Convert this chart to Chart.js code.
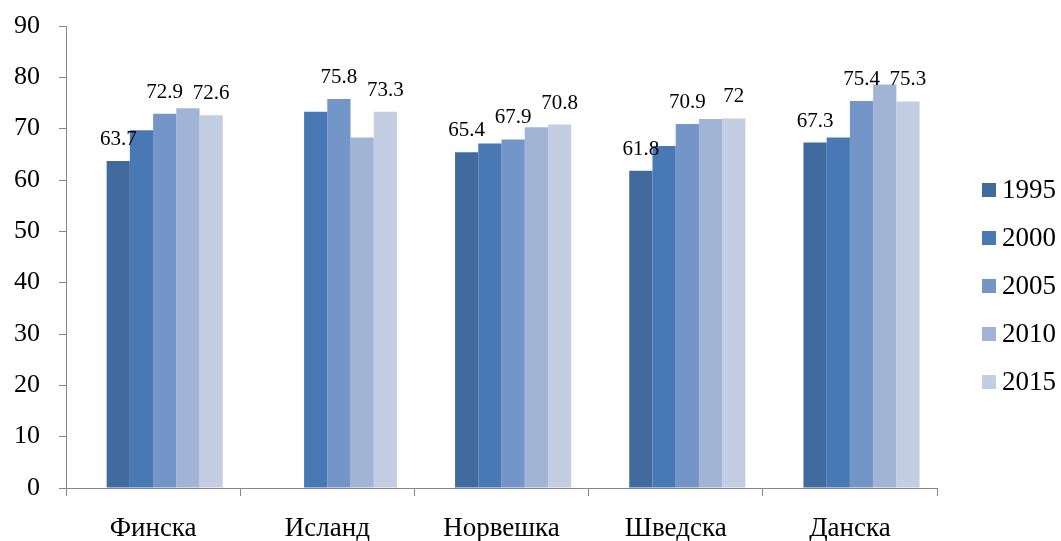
<!DOCTYPE html>
<html><head><meta charset="utf-8">
<script src="https://cdn.jsdelivr.net/npm/chart.js@4"></script>
<style>html,body{margin:0;padding:0;background:#fff}#wrap{width:1061px;height:541px;position:relative}</style>
</head><body><div id="wrap"><canvas id="c"></canvas></div>
<script>
const categories = ['Финска', 'Исланд', 'Норвешка', 'Шведска', 'Данска'];
const seriesNames = ['1995', '2000', '2005', '2010', '2015'];
const v1995 = [63.7, null, 65.4, 61.8, 67.3];
const v2000 = [69.7, 73.3, 67.1, 66.6, 68.3];
const v2005 = [72.9, 75.8, 67.9, 70.9, 75.4];
const v2010 = [74.0, 68.3, 70.3, 71.9, 78.6];
const v2015 = [72.6, 73.3, 70.8, 72.0, 75.3];
const emptySlot = [null, null, null, null, null];
const yTicks = [0, 10, 20, 30, 40, 50, 60, 70, 80, 90];
const labeledSeries = ['1995', '2005', '2015'];
const colors = ['#416B9F', '#4979B5', '#7395C7', '#A2B4D6', '#C4CEE3'];

const FONT = "'Liberation Serif', 'Times New Roman', serif";
const seriesValues = [v1995, v2000, v2005, v2010, v2015];

const datasets = [{ label: '', data: emptySlot, backgroundColor: 'rgba(0,0,0,0)' }];
seriesNames.forEach((n, i) => datasets.push({ label: n, data: seriesValues[i], backgroundColor: colors[i], borderWidth: 0 }));

const labelPlugin = {
  id: 'valueLabels',
  afterDatasetsDraw(chart) {
    const ctx = chart.ctx;
    ctx.save();
    ctx.font = '21px ' + FONT;
    ctx.fillStyle = '#000';
    ctx.textAlign = 'center';
    ctx.textBaseline = 'bottom';
    chart.data.datasets.forEach((ds, di) => {
      if (!labeledSeries.includes(ds.label)) return;
      chart.getDatasetMeta(di).data.forEach((bar, i) => {
        const v = ds.data[i];
        if (v === null || v === undefined) return;
        ctx.fillText(String(v), bar.x, bar.y - 11);
      });
    });
    ctx.restore();
  }
};

const legendPlugin = {
  id: 'rightLegend',
  afterDraw(chart) {
    const ctx = chart.ctx;
    ctx.save();
    ctx.font = '27px ' + FONT;
    ctx.textBaseline = 'middle';
    ctx.textAlign = 'left';
    seriesNames.forEach((n, i) => {
      const y = 190 + i * 48;
      ctx.fillStyle = colors[i];
      ctx.fillRect(982, y - 7, 14, 14);
      ctx.fillStyle = '#000';
      ctx.fillText(n, 1002, y + 1);
    });
    ctx.restore();
  }
};

new Chart(document.getElementById('c'), {
  type: 'bar',
  data: { labels: categories, datasets },
  options: {
    responsive: true,
    maintainAspectRatio: false,
    animation: false,
    layout: { padding: { top: 26, right: 124, left: 0, bottom: 0 } },
    datasets: { bar: { categoryPercentage: 0.8, barPercentage: 1.0 } },
    plugins: { legend: { display: false }, tooltip: { enabled: false } },
    scales: {
      x: {
        grid: { drawOnChartArea: false, drawTicks: true, tickLength: 8, color: '#868686', offset: true },
        border: { color: '#868686', width: 1 },
        ticks: { color: '#000', font: { family: FONT, size: 27 }, padding: 17, maxRotation: 0 },
        afterFit(s) { s.height = 53; s.paddingLeft = 0; s.paddingRight = 0; }
      },
      y: {
        min: 0, max: 90,
        afterBuildTicks(s) { s.ticks = yTicks.map(v => ({ value: v })); },
        grid: { drawOnChartArea: false, drawTicks: true, tickLength: 7, color: '#868686' },
        border: { color: '#868686', width: 1 },
        ticks: { color: '#000', font: { family: FONT, size: 26 }, padding: 19 },
        afterFit(s) { s.width = 66; s.paddingTop = 0; s.paddingBottom = 0; }
      }
    }
  },
  plugins: [labelPlugin, legendPlugin]
});
</script></body></html>
